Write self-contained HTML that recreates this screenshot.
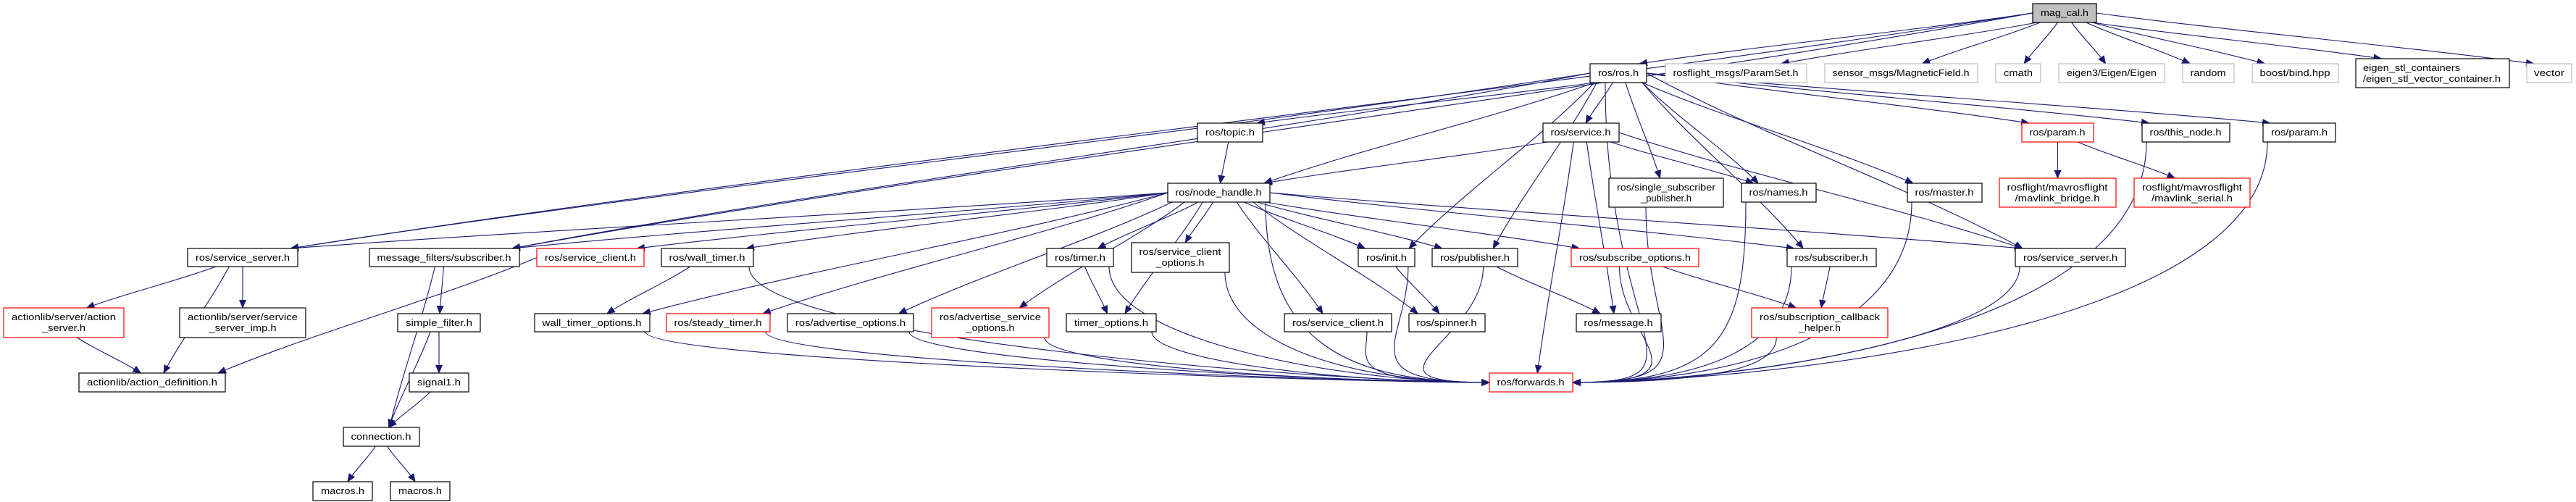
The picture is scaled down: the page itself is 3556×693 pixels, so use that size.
<!DOCTYPE html>
<html><head><meta charset="utf-8"><style>
html,body{margin:0;padding:0;background:#fff;}
svg{display:block;}
text{font-family:"Liberation Sans","DejaVu Sans",sans-serif;font-size:13px;fill:#000;}
</style></head><body>
<svg id="g" xmlns="http://www.w3.org/2000/svg" width="3556" height="693" viewBox="0 0 3556 693">
<defs><marker id="a" markerUnits="userSpaceOnUse" markerWidth="12" markerHeight="10" refX="11" refY="5" orient="auto"><path d="M0,0 L12,5 L0,10 z" fill="#191970"/></marker></defs>
<g id="edges" fill="none" stroke="#191970" stroke-width="1.1"></g>
<g id="nodes" stroke-width="1.2">
<rect x="2806" y="5" width="88" height="26" fill="#bfbfbf" stroke="#000"/><text x="2850" y="22" text-anchor="middle" textLength="66" lengthAdjust="spacingAndGlyphs">mag_cal.h</text>
<rect x="2195" y="88" width="78" height="26" fill="#fff" stroke="#000"/><text x="2234" y="105" text-anchor="middle" textLength="56" lengthAdjust="spacingAndGlyphs">ros/ros.h</text>
<rect x="2299" y="88" width="195" height="26" fill="#fff" stroke="#bfbfbf"/><text x="2396" y="105" text-anchor="middle" textLength="173" lengthAdjust="spacingAndGlyphs">rosflight_msgs/ParamSet.h</text>
<rect x="2519" y="88" width="211" height="26" fill="#fff" stroke="#bfbfbf"/><text x="2624" y="105" text-anchor="middle" textLength="189" lengthAdjust="spacingAndGlyphs">sensor_msgs/MagneticField.h</text>
<rect x="2755" y="88" width="62" height="26" fill="#fff" stroke="#bfbfbf"/><text x="2786" y="105" text-anchor="middle" textLength="40" lengthAdjust="spacingAndGlyphs">cmath</text>
<rect x="2842" y="88" width="146" height="26" fill="#fff" stroke="#bfbfbf"/><text x="2915" y="105" text-anchor="middle" textLength="124" lengthAdjust="spacingAndGlyphs">eigen3/Eigen/Eigen</text>
<rect x="3013" y="88" width="71" height="26" fill="#fff" stroke="#bfbfbf"/><text x="3048" y="105" text-anchor="middle" textLength="49" lengthAdjust="spacingAndGlyphs">random</text>
<rect x="3109" y="88" width="119" height="26" fill="#fff" stroke="#bfbfbf"/><text x="3168" y="105" text-anchor="middle" textLength="97" lengthAdjust="spacingAndGlyphs">boost/bind.hpp</text>
<rect x="3252" y="81" width="212" height="40" fill="#fff" stroke="#000"/><text x="3262" y="98" textLength="134" lengthAdjust="spacingAndGlyphs">eigen_stl_containers</text><text x="3262" y="113" textLength="190" lengthAdjust="spacingAndGlyphs">/eigen_stl_vector_container.h</text>
<rect x="3488" y="88" width="62" height="26" fill="#fff" stroke="#bfbfbf"/><text x="3519" y="105" text-anchor="middle" textLength="42" lengthAdjust="spacingAndGlyphs">vector</text>
<rect x="1653" y="170" width="90" height="26" fill="#fff" stroke="#000"/><text x="1698" y="187" text-anchor="middle" textLength="68" lengthAdjust="spacingAndGlyphs">ros/topic.h</text>
<rect x="2130" y="170" width="105" height="26" fill="#fff" stroke="#000"/><text x="2182" y="187" text-anchor="middle" textLength="83" lengthAdjust="spacingAndGlyphs">ros/service.h</text>
<rect x="2791" y="170" width="99" height="26" fill="#fff" stroke="#f00"/><text x="2840" y="187" text-anchor="middle" textLength="77" lengthAdjust="spacingAndGlyphs">ros/param.h</text>
<rect x="2957" y="170" width="121" height="26" fill="#fff" stroke="#000"/><text x="3017" y="187" text-anchor="middle" textLength="99" lengthAdjust="spacingAndGlyphs">ros/this_node.h</text>
<rect x="3124" y="170" width="100" height="26" fill="#fff" stroke="#000"/><text x="3174" y="187" text-anchor="middle" textLength="78" lengthAdjust="spacingAndGlyphs">ros/param.h</text>
<rect x="1612" y="253" width="141" height="26" fill="#fff" stroke="#000"/><text x="1682" y="270" text-anchor="middle" textLength="119" lengthAdjust="spacingAndGlyphs">ros/node_handle.h</text>
<rect x="2221" y="246" width="158" height="40" fill="#fff" stroke="#000"/><text x="2300" y="263" text-anchor="middle" textLength="136" lengthAdjust="spacingAndGlyphs">ros/single_subscriber</text><text x="2300" y="278" text-anchor="middle" textLength="70" lengthAdjust="spacingAndGlyphs">_publisher.h</text>
<rect x="2404" y="253" width="103" height="26" fill="#fff" stroke="#000"/><text x="2455" y="270" text-anchor="middle" textLength="81" lengthAdjust="spacingAndGlyphs">ros/names.h</text>
<rect x="2633" y="253" width="103" height="26" fill="#fff" stroke="#000"/><text x="2684" y="270" text-anchor="middle" textLength="81" lengthAdjust="spacingAndGlyphs">ros/master.h</text>
<rect x="2760" y="246" width="161" height="40" fill="#fff" stroke="#f00"/><text x="2840" y="263" text-anchor="middle" textLength="139" lengthAdjust="spacingAndGlyphs">rosflight/mavrosflight</text><text x="2840" y="278" text-anchor="middle" textLength="117" lengthAdjust="spacingAndGlyphs">/mavlink_bridge.h</text>
<rect x="2946" y="246" width="160" height="40" fill="#fff" stroke="#f00"/><text x="3026" y="263" text-anchor="middle" textLength="138" lengthAdjust="spacingAndGlyphs">rosflight/mavrosflight</text><text x="3026" y="278" text-anchor="middle" textLength="112" lengthAdjust="spacingAndGlyphs">/mavlink_serial.h</text>
<rect x="259" y="343" width="152" height="25" fill="#fff" stroke="#000"/><text x="335" y="360" text-anchor="middle" textLength="130" lengthAdjust="spacingAndGlyphs">ros/service_server.h</text>
<rect x="510" y="343" width="207" height="25" fill="#fff" stroke="#000"/><text x="613" y="360" text-anchor="middle" textLength="185" lengthAdjust="spacingAndGlyphs">message_filters/subscriber.h</text>
<rect x="741" y="343" width="148" height="25" fill="#fff" stroke="#f00"/><text x="815" y="360" text-anchor="middle" textLength="126" lengthAdjust="spacingAndGlyphs">ros/service_client.h</text>
<rect x="913" y="343" width="127" height="25" fill="#fff" stroke="#000"/><text x="976" y="360" text-anchor="middle" textLength="105" lengthAdjust="spacingAndGlyphs">ros/wall_timer.h</text>
<rect x="1445" y="343" width="92" height="25" fill="#fff" stroke="#000"/><text x="1491" y="360" text-anchor="middle" textLength="70" lengthAdjust="spacingAndGlyphs">ros/timer.h</text>
<rect x="1562" y="335" width="135" height="41" fill="#fff" stroke="#000"/><text x="1629" y="352" text-anchor="middle" textLength="113" lengthAdjust="spacingAndGlyphs">ros/service_client</text><text x="1629" y="367" text-anchor="middle" textLength="67" lengthAdjust="spacingAndGlyphs">_options.h</text>
<rect x="1875" y="343" width="78" height="25" fill="#fff" stroke="#000"/><text x="1914" y="360" text-anchor="middle" textLength="56" lengthAdjust="spacingAndGlyphs">ros/init.h</text>
<rect x="1977" y="343" width="118" height="25" fill="#fff" stroke="#000"/><text x="2036" y="360" text-anchor="middle" textLength="96" lengthAdjust="spacingAndGlyphs">ros/publisher.h</text>
<rect x="2169" y="343" width="176" height="25" fill="#fff" stroke="#f00"/><text x="2257" y="360" text-anchor="middle" textLength="154" lengthAdjust="spacingAndGlyphs">ros/subscribe_options.h</text>
<rect x="2467" y="343" width="123" height="25" fill="#fff" stroke="#000"/><text x="2528" y="360" text-anchor="middle" textLength="101" lengthAdjust="spacingAndGlyphs">ros/subscriber.h</text>
<rect x="2782" y="343" width="152" height="25" fill="#fff" stroke="#000"/><text x="2858" y="360" text-anchor="middle" textLength="130" lengthAdjust="spacingAndGlyphs">ros/service_server.h</text>
<rect x="5" y="425" width="166" height="41" fill="#fff" stroke="#f00"/><text x="88" y="442" text-anchor="middle" textLength="144" lengthAdjust="spacingAndGlyphs">actionlib/server/action</text><text x="88" y="457" text-anchor="middle" textLength="60" lengthAdjust="spacingAndGlyphs">_server.h</text>
<rect x="248" y="425" width="174" height="41" fill="#fff" stroke="#000"/><text x="335" y="442" text-anchor="middle" textLength="152" lengthAdjust="spacingAndGlyphs">actionlib/server/service</text><text x="335" y="457" text-anchor="middle" textLength="93" lengthAdjust="spacingAndGlyphs">_server_imp.h</text>
<rect x="549" y="433" width="114" height="25" fill="#fff" stroke="#000"/><text x="606" y="450" text-anchor="middle" textLength="92" lengthAdjust="spacingAndGlyphs">simple_filter.h</text>
<rect x="738" y="433" width="159" height="25" fill="#fff" stroke="#000"/><text x="817" y="450" text-anchor="middle" textLength="137" lengthAdjust="spacingAndGlyphs">wall_timer_options.h</text>
<rect x="920" y="433" width="143" height="25" fill="#fff" stroke="#f00"/><text x="991" y="450" text-anchor="middle" textLength="121" lengthAdjust="spacingAndGlyphs">ros/steady_timer.h</text>
<rect x="1087" y="433" width="174" height="25" fill="#fff" stroke="#000"/><text x="1174" y="450" text-anchor="middle" textLength="152" lengthAdjust="spacingAndGlyphs">ros/advertise_options.h</text>
<rect x="1286" y="425" width="162" height="41" fill="#fff" stroke="#f00"/><text x="1367" y="442" text-anchor="middle" textLength="140" lengthAdjust="spacingAndGlyphs">ros/advertise_service</text><text x="1367" y="457" text-anchor="middle" textLength="67" lengthAdjust="spacingAndGlyphs">_options.h</text>
<rect x="1472" y="433" width="124" height="25" fill="#fff" stroke="#000"/><text x="1534" y="450" text-anchor="middle" textLength="102" lengthAdjust="spacingAndGlyphs">timer_options.h</text>
<rect x="1773" y="433" width="148" height="25" fill="#fff" stroke="#000"/><text x="1847" y="450" text-anchor="middle" textLength="126" lengthAdjust="spacingAndGlyphs">ros/service_client.h</text>
<rect x="1945" y="433" width="105" height="25" fill="#fff" stroke="#000"/><text x="1997" y="450" text-anchor="middle" textLength="83" lengthAdjust="spacingAndGlyphs">ros/spinner.h</text>
<rect x="2176" y="433" width="117" height="25" fill="#fff" stroke="#000"/><text x="2234" y="450" text-anchor="middle" textLength="95" lengthAdjust="spacingAndGlyphs">ros/message.h</text>
<rect x="2418" y="425" width="188" height="41" fill="#fff" stroke="#f00"/><text x="2512" y="442" text-anchor="middle" textLength="166" lengthAdjust="spacingAndGlyphs">ros/subscription_callback</text><text x="2512" y="457" text-anchor="middle" textLength="58" lengthAdjust="spacingAndGlyphs">_helper.h</text>
<rect x="109" y="515" width="202" height="26" fill="#fff" stroke="#000"/><text x="210" y="532" text-anchor="middle" textLength="180" lengthAdjust="spacingAndGlyphs">actionlib/action_definition.h</text>
<rect x="565" y="515" width="82" height="26" fill="#fff" stroke="#000"/><text x="606" y="532" text-anchor="middle" textLength="60" lengthAdjust="spacingAndGlyphs">signal1.h</text>
<rect x="2056" y="515" width="115" height="26" fill="#fff" stroke="#f00"/><text x="2113" y="532" text-anchor="middle" textLength="93" lengthAdjust="spacingAndGlyphs">ros/forwards.h</text>
<rect x="474" y="590" width="105" height="26" fill="#fff" stroke="#000"/><text x="526" y="607" text-anchor="middle" textLength="83" lengthAdjust="spacingAndGlyphs">connection.h</text>
<rect x="432" y="665" width="82" height="26" fill="#fff" stroke="#000"/><text x="473" y="682" text-anchor="middle" textLength="60" lengthAdjust="spacingAndGlyphs">macros.h</text>
<rect x="539" y="665" width="82" height="26" fill="#fff" stroke="#000"/><text x="580" y="682" text-anchor="middle" textLength="60" lengthAdjust="spacingAndGlyphs">macros.h</text>
</g>
</svg>
<script>
var B={mag:[2806,2894,5,31],ros:[2195,2273,88,114],paramset:[2299,2494,88,114],magfield:[2519,2730,88,114],cmath:[2755,2817,88,114],eigen:[2842,2988,88,114],random:[3013,3084,88,114],bind:[3109,3228,88,114],estl:[3252,3464,81,121],vector:[3488,3550,88,114],
topic:[1653,1743,170,196],service:[2130,2235,170,196],paramR:[2791,2890,170,196],thisnode:[2957,3078,170,196],paramB:[3124,3224,170,196],
nh:[1612,1753,253,279],ssp:[2221,2379,246,286],names:[2404,2507,253,279],master:[2633,2736,253,279],bridge:[2760,2921,246,286],serial:[2946,3106,246,286],
ssL:[259,411,343,368],mfsub:[510,717,343,368],sclR:[741,889,343,368],wall:[913,1040,343,368],timer:[1445,1537,343,368],sco:[1562,1697,335,376],init:[1875,1953,343,368],pub:[1977,2095,343,368],subopt:[2169,2345,343,368],sub:[2467,2590,343,368],ssR:[2782,2934,343,368],
actsrv:[5,171,425,466],ssimp:[248,422,425,466],simple:[549,663,433,458],wto:[738,897,433,458],steady:[920,1063,433,458],advopt:[1087,1261,433,458],advsrv:[1286,1448,425,466],topt:[1472,1596,433,458],scl:[1773,1921,433,458],spinner:[1945,2050,433,458],message:[2176,2293,433,458],sch:[2418,2606,425,466],
actdef:[109,311,515,541],signal:[565,647,515,541],fwd:[2056,2171,515,541],conn:[474,579,590,616],m1:[432,514,665,691],m2:[539,621,665,691]};
var E=[["mag","ros"],["mag","paramset"],["mag","magfield"],["mag","cmath"],["mag","eigen"],["mag","random"],["mag","bind"],["mag","estl"],["mag","vector"],["mag","ssL"],["mag","mfsub"],
["ros","topic"],["ros","nh"],["ros","service"],["ros","init"],["ros","pub"],["ros","ssp"],["ros","names"],["ros","master"],["ros","paramR"],["ros","thisnode"],["ros","paramB"],["ros","sub"],["ros","ssR"],["ros","ssL"],["ros","mfsub"],["ros","fwd"],
["topic","nh"],["service","nh"],["service","names"],["service","message"],["service","fwd"],["service","ssR"],
["nh","ssL"],["nh","mfsub"],["nh","sclR"],["nh","wall"],["nh","wto"],["nh","steady"],["nh","advopt"],["nh","advsrv"],["nh","topt"],["nh","timer"],["nh","sco"],["nh","fwd"],["nh","scl"],["nh","spinner"],["nh","init"],["nh","pub"],["nh","subopt"],["nh","sub"],["nh","ssR"],
["ssL","actsrv"],["ssL","ssimp"],["ssL","actdef"],["actsrv","actdef"],["sclR","actdef"],["mfsub","simple"],["mfsub","conn"],["simple","signal"],["simple","conn"],["signal","conn"],["conn","m1"],["conn","m2"],
["wall","wto"],["wall","fwd"],["timer","topt"],["timer","fwd"],["wto","fwd"],["steady","fwd"],["advopt","fwd"],["advsrv","fwd"],["topt","fwd"],["sco","fwd"],["scl","fwd"],["init","spinner"],["init","fwd"],["pub","message"],["pub","fwd"],["subopt","sch"],["subopt","fwd"],["sub","sch"],["sub","fwd"],["sch","fwd"],["ssR","fwd"],["names","fwd"],["master","fwd"],["thisnode","fwd"],["paramB","fwd"],["ssp","fwd"],["paramR","bridge"],["paramR","serial"]];
var g=document.getElementById("edges"),ns="http://www.w3.org/2000/svg";
function cl(v,a,b){return Math.max(a,Math.min(b,v));}
E.forEach(function(e){var s=B[e[0]],t=B[e[1]];var tcx=(t[0]+t[1])/2,scx=(s[0]+s[1])/2;
var sx=cl(scx+(tcx-scx)*0.15,s[0]+6,s[1]-6),sy=s[3];var tx,ty,d;
if(e[1]=="fwd"&&(scx<2040||scx>2190)){ if(scx<2056){tx=2056;ty=528;}else{tx=2171;ty=528;}
 var my=Math.max(sy+40,470);d="M"+sx+","+sy+" C"+sx+","+(my)+" "+(tx+(scx<tx?-200:200))+","+ty+" "+tx+","+ty;}
else{tx=cl(sx+(tcx-sx)*0.85,t[0]+8,t[1]-8);ty=t[2];
 if(Math.abs(tcx-scx)>600&&s[3]-s[2]<30&&t[2]-s[3]<400){ if(tcx<scx){sx=s[0];}else{sx=s[1];} sy=(s[2]+s[3])/2;
   tx=tcx<scx?cl(t[1]-10,t[0],t[1]):cl(t[0]+10,t[0],t[1]);ty=t[2];}
 var dy=ty-sy;d="M"+sx+","+sy+" C"+(sx+(tx-sx)*0.3)+","+(sy+dy*0.35)+" "+(sx+(tx-sx)*0.7)+","+(sy+dy*0.65)+" "+tx+","+ty;}
var p=document.createElementNS(ns,"path");p.setAttribute("d",d);p.setAttribute("marker-end","url(#a)");g.appendChild(p);});
</script>
</body></html>
